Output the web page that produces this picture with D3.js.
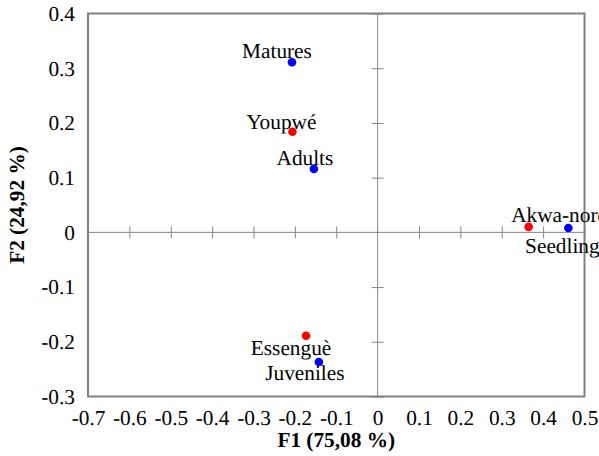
<!DOCTYPE html>
<html>
<head>
<meta charset="utf-8">
<script src="https://cdn.jsdelivr.net/npm/d3@7"></script>
<style>
  body { margin: 0; background: #fff; }
  svg { display: block; }
  text { text-rendering: geometricPrecision; }
</style>
</head>
<body>
<svg id="chart" width="599" height="456"></svg>
<script>
// sites (red) and stages (blue), F1 / F2 coordinates
const names = ["Matures", "Youpwé", "Adults", "Essenguè", "Juveniles", "Akwa-nord", "Seedling"];
const f1 = [-0.207, -0.206, -0.154, -0.173, -0.142, 0.365, 0.461];
const f2 = [0.311, 0.184, 0.116, -0.189, -0.237, 0.010, 0.008];
const kind = ["stage", "site", "stage", "site", "stage", "site", "stage"];

const xTicks = [-0.7, -0.6, -0.5, -0.4, -0.3, -0.2, -0.1, 0, 0.1, 0.2, 0.3, 0.4, 0.5];
const yTicks = [-0.3, -0.2, -0.1, 0, 0.1, 0.2, 0.3, 0.4];

// label offsets from the point, in px
const labelDx = [-15, -11, -9, -15, -14, 31, -6];
const labelDy = [-4, -3, -4, 19, 18, -5, 25];

const colors = { site: "#ff0000", stage: "#0000ff" };
const FONT = '"Liberation Serif"';

const width = 599, height = 456;
const margin = { top: 13.5, right: 14.5, bottom: 59.5, left: 88 };

const points = names.map((n, i) => ({
    name: n, f1: f1[i], f2: f2[i], kind: kind[i], dx: labelDx[i], dy: labelDy[i]
}));

const svg = d3.select("#chart");

const x = d3.scaleLinear()
    .domain([-0.7, 0.5])
    .range([margin.left, width - margin.right]);

const y = d3.scaleLinear()
    .domain([-0.3, 0.4])
    .range([height - margin.bottom, margin.top]);

const fmt = d => d === 0 ? "0" : d.toFixed(1);

// zero lines with crossing ticks
svg.append("g")
    .attr("transform", `translate(0,${y(0) - 6})`)
    .call(d3.axisBottom(x).tickValues(xTicks.filter(d => d !== 0)).tickSize(12).tickFormat(""))
    .call(g => g.select(".domain").remove())
    .call(g => g.selectAll("line").attr("stroke", "#868686"));

svg.append("g")
    .attr("transform", `translate(${x(0) + 6},0)`)
    .call(d3.axisLeft(y).tickValues(yTicks.filter(d => d !== 0)).tickSize(12).tickFormat(""))
    .call(g => g.select(".domain").remove())
    .call(g => g.selectAll("line").attr("stroke", "#868686"));

svg.append("line")
    .attr("x1", x(-0.7)).attr("x2", x(0.5))
    .attr("y1", y(0)).attr("y2", y(0))
    .attr("stroke", "#868686");

svg.append("line")
    .attr("x1", x(0)).attr("x2", x(0))
    .attr("y1", y(-0.3)).attr("y2", y(0.4))
    .attr("stroke", "#868686");

// frame
svg.append("rect")
    .attr("x", x(-0.7))
    .attr("y", y(0.4))
    .attr("width", x(0.5) - x(-0.7))
    .attr("height", y(-0.3) - y(0.4))
    .attr("fill", "none")
    .attr("stroke", "#808080")
    .attr("stroke-width", 2);

// tick labels
const xLab = svg.append("g")
    .attr("transform", `translate(0,${y(-0.3) + 10})`)
    .call(d3.axisBottom(x).tickValues(xTicks).tickSize(0).tickFormat(fmt));
xLab.select(".domain").remove();
xLab.selectAll("text")
    .style("font-family", FONT)
    .style("font-size", "21.3px")
    .attr("fill", "#000");

const yLab = svg.append("g")
    .attr("transform", `translate(${x(-0.7) - 10},0)`)
    .call(d3.axisLeft(y).tickValues(yTicks).tickSize(0).tickFormat(fmt));
yLab.select(".domain").remove();
yLab.selectAll("text")
    .style("font-family", FONT)
    .style("font-size", "21.3px")
    .attr("fill", "#000");

// axis titles
svg.append("text")
    .attr("x", (x(-0.7) + x(0.5)) / 2)
    .attr("y", 446.5)
    .attr("text-anchor", "middle")
    .style("font-family", FONT)
    .style("font-size", "21.3px")
    .style("font-weight", "bold")
    .text("F1 (75,08 %)");

svg.append("text")
    .attr("transform", `translate(24,${(y(0.4) + y(-0.3)) / 2}) rotate(-90)`)
    .attr("text-anchor", "middle")
    .style("font-family", FONT)
    .style("font-size", "21.3px")
    .style("font-weight", "bold")
    .text("F2 (24,92 %)");

// points
svg.append("g").selectAll("circle")
    .data(points)
    .join("circle")
    .attr("cx", d => x(d.f1))
    .attr("cy", d => y(d.f2))
    .attr("r", 4.3)
    .attr("fill", d => colors[d.kind]);

svg.append("g").selectAll("text")
    .data(points)
    .join("text")
    .attr("x", d => x(d.f1) + d.dx)
    .attr("y", d => y(d.f2) + d.dy)
    .attr("text-anchor", "middle")
    .style("font-family", FONT)
    .style("font-size", "21.3px")
    .attr("fill", "#000")
    .text(d => d.name);
</script>
</body>
</html>
